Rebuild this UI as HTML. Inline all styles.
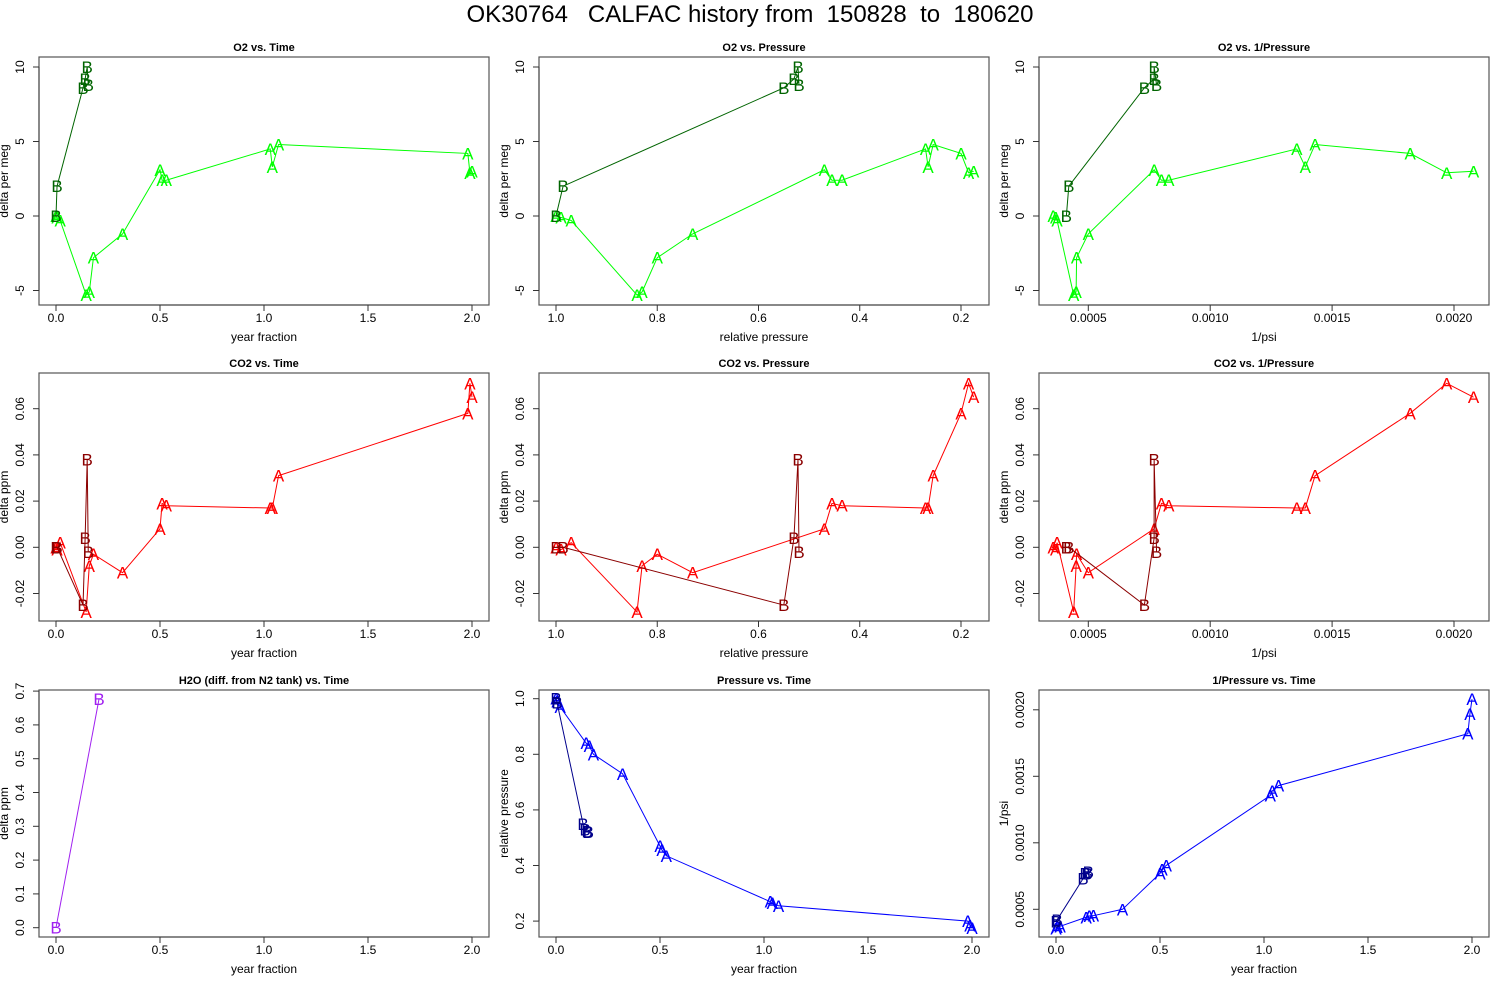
<!DOCTYPE html>
<html><head><meta charset="utf-8"><style>
html,body{margin:0;padding:0;background:#fff;}
svg{display:block;font-family:"Liberation Sans",sans-serif;}
</style></head><body>
<svg id="c" width="1500" height="1000" xmlns="http://www.w3.org/2000/svg">
<rect width="1500" height="1000" fill="#fff"/>
<text x="750" y="22" text-anchor="middle" font-size="24" xml:space="preserve" style="white-space:pre">OK30764   CALFAC history from  150828  to  180620</text>
</svg>
<script>
// Series A data
const aTime = [0.00,0.005,0.02,0.145,0.16,0.18,0.32,0.50,0.51,0.53,1.03,1.04,1.07,1.98,1.99,2.00];
const aPres = [1.00,0.99,0.97,0.84,0.83,0.80,0.73,0.47,0.455,0.435,0.27,0.265,0.255,0.20,0.185,0.175];
const aInvP = [0.000356,0.000366,0.000372,0.00044,0.00045,0.000452,0.0005,0.00077,0.0008,0.00083,0.001355,0.00139,0.00143,0.00182,0.00197,0.00208];
const aO2 = [0.0,-0.1,-0.3,-5.3,-5.1,-2.8,-1.2,3.1,2.4,2.4,4.5,3.3,4.8,4.2,2.9,3.0];
const aCO2 = [0.000,-0.001,0.002,-0.028,-0.008,-0.003,-0.011,0.008,0.019,0.018,0.017,0.017,0.031,0.058,0.071,0.065];
// Series B data
const bTime = [0.00,0.005,0.13,0.14,0.15,0.155];
const bPres = [1.00,0.986,0.55,0.53,0.522,0.52];
const bInvP = [0.00041,0.00042,0.00073,0.00077,0.00077,0.00078];
const bO2 = [0.0,2.0,8.6,9.2,10.0,8.8];
const bCO2 = [0.000,0.000,-0.025,0.004,0.038,-0.002];
const h2oTime = [0.00,0.207];
const h2oVal = [0.00,0.677];
// tick labels
const timeTicks = [0,0.5,1,1.5,2];
const timeLabels = ["0.0","0.5","1.0","1.5","2.0"];
const presTicks = [1.0,0.8,0.6,0.4,0.2];
const presLabels = ["1.0","0.8","0.6","0.4","0.2"];
const invTicks = [0.0005,0.0010,0.0015,0.0020];
const invLabels = ["0.0005","0.0010","0.0015","0.0020"];
const o2Ticks = [-5,0,5,10];
const o2Labels = ["-5","0","5","10"];
const co2Ticks = [-0.02,0,0.02,0.04,0.06];
const co2Labels = ["-0.02","0.00","0.02","0.04","0.06"];
const h2oTicks = [0,0.1,0.2,0.3,0.4,0.5,0.6,0.7];
const h2oLabels = ["0.0","0.1","0.2","0.3","0.4","0.5","0.6","0.7"];

const NS="http://www.w3.org/2000/svg";
const svg=document.getElementById('c');
const colL=[39,539,1039], rowT=[57,373,690], rowB=[305,621,937];
const sx={
 time:v=>17+v*208,
 pres:v=>17+(1-v)*506.25,
 inv:v=>49.3+(v-0.0005)*243800
};
const sy={
 o2:v=>159-v*14.9,
 co2:v=>174.3-v*2310,
 h2o:v=>237.7-v*338,
 pres:v=>8.7+(1-v)*278,
 inv:v=>219.3-(v-0.0005)*133000
};
function el(tag,attrs,parent){const e=document.createElementNS(NS,tag);for(const k in attrs)e.setAttribute(k,attrs[k]);(parent||svg).appendChild(e);return e;}

function panel(o){
 const L=colL[o.col],T=rowT[o.row],B=rowB[o.row];
 const g=el('g',{});
 
 
 const fr=el('rect',{x:L,y:T,width:450,height:B-T,fill:'none',stroke:'#555','stroke-width':1.2},g);
 
 
 const t=el('text',{x:L+225,y:T-6,'text-anchor':'middle','font-size':11,'font-weight':'bold'},g);
 t.textContent=o.title;
 
 
 const xa=el('g',{},g);
 
 
 const xp=o.xt.map(v=>L+sx[o.xs](v));
 el('line',{x1:xp[0],x2:xp[xp.length-1],y1:B,y2:B,stroke:'#333'},xa);
 o.xt.forEach((v,i)=>{
  el('line',{x1:xp[i],x2:xp[i],y1:B,y2:B+6,stroke:'#333'},xa);
  const lt=el('text',{x:xp[i],y:B+17,'text-anchor':'middle','font-size':12},xa);
  lt.textContent=o.xl[i];
  
  
 });
 const xt=el('text',{x:L+225,y:B+36,'text-anchor':'middle','font-size':12},g);
 xt.textContent=o.xtitle;
 
 
 const ya=el('g',{},g);
 
 
 const yp=o.yt.map(v=>T+sy[o.ys](v));
 el('line',{x1:L,x2:L,y1:yp[0],y2:yp[yp.length-1],stroke:'#333'},ya);
 o.yt.forEach((v,i)=>{
  el('line',{x1:L,x2:L-6,y1:yp[i],y2:yp[i],stroke:'#333'},ya);
  const lt=el('text',{x:L-15,y:yp[i],'text-anchor':'middle','font-size':12,transform:`rotate(-90 ${L-15} ${yp[i]})`},ya);
  lt.textContent=o.yl[i];
  
  
 });
 const ytx=L-31, yty=(T+B)/2;
 const yt=el('text',{x:ytx,y:yty,'text-anchor':'middle','font-size':12,transform:`rotate(-90 ${ytx} ${yty})`},g);
 yt.textContent=o.ytitle;
 
 
 o.series.forEach(s=>{
  const sg=el('g',{},g);
  
  
  const pts=s.x.map((v,i)=>[L+sx[o.xs](v),T+sy[o.ys](s.y[i])]);
  const pl=el('polyline',{points:pts.map(p=>p.join(',')).join(' '),fill:'none',stroke:s.color,'stroke-width':1},sg);
  
  
  pts.forEach(p=>{
   const m=el('text',{x:p[0],y:p[1]+6,'text-anchor':'middle','font-size':17,fill:s.color},sg);
   m.textContent=s.letter;
   
   
  });
 });
}
const LG='#00ff00',DG='#006400',RD='#ff0000',DR='#8b0000',BL='#0000ff',DB='#00008b',PU='#a020f0';
panel({name:'o2-vs-time-panel',col:0,row:0,title:'O2 vs. Time',xs:'time',ys:'o2',xt:timeTicks,xl:timeLabels,yt:o2Ticks,yl:o2Labels,xtitle:'year fraction',ytitle:'delta per meg',
 series:[{letter:'A',color:LG,x:aTime,y:aO2},{letter:'B',color:DG,x:bTime,y:bO2}]});
panel({name:'o2-vs-pressure-panel',col:1,row:0,title:'O2 vs. Pressure',xs:'pres',ys:'o2',xt:presTicks,xl:presLabels,yt:o2Ticks,yl:o2Labels,xtitle:'relative pressure',ytitle:'delta per meg',
 series:[{letter:'A',color:LG,x:aPres,y:aO2},{letter:'B',color:DG,x:bPres,y:bO2}]});
panel({name:'o2-vs-invpressure-panel',col:2,row:0,title:'O2 vs. 1/Pressure',xs:'inv',ys:'o2',xt:invTicks,xl:invLabels,yt:o2Ticks,yl:o2Labels,xtitle:'1/psi',ytitle:'delta per meg',
 series:[{letter:'A',color:LG,x:aInvP,y:aO2},{letter:'B',color:DG,x:bInvP,y:bO2}]});
panel({name:'co2-vs-time-panel',col:0,row:1,title:'CO2 vs. Time',xs:'time',ys:'co2',xt:timeTicks,xl:timeLabels,yt:co2Ticks,yl:co2Labels,xtitle:'year fraction',ytitle:'delta ppm',
 series:[{letter:'A',color:RD,x:aTime,y:aCO2},{letter:'B',color:DR,x:bTime,y:bCO2}]});
panel({name:'co2-vs-pressure-panel',col:1,row:1,title:'CO2 vs. Pressure',xs:'pres',ys:'co2',xt:presTicks,xl:presLabels,yt:co2Ticks,yl:co2Labels,xtitle:'relative pressure',ytitle:'delta ppm',
 series:[{letter:'A',color:RD,x:aPres,y:aCO2},{letter:'B',color:DR,x:bPres,y:bCO2}]});
panel({name:'co2-vs-invpressure-panel',col:2,row:1,title:'CO2 vs. 1/Pressure',xs:'inv',ys:'co2',xt:invTicks,xl:invLabels,yt:co2Ticks,yl:co2Labels,xtitle:'1/psi',ytitle:'delta ppm',
 series:[{letter:'A',color:RD,x:aInvP,y:aCO2},{letter:'B',color:DR,x:bInvP,y:bCO2}]});
panel({name:'h2o-vs-time-panel',col:0,row:2,title:'H2O (diff. from N2 tank) vs. Time',xs:'time',ys:'h2o',xt:timeTicks,xl:timeLabels,yt:h2oTicks,yl:h2oLabels,xtitle:'year fraction',ytitle:'delta ppm',
 series:[{letter:'B',color:PU,x:h2oTime,y:h2oVal}]});
panel({name:'pressure-vs-time-panel',col:1,row:2,title:'Pressure vs. Time',xs:'time',ys:'pres',xt:timeTicks,xl:timeLabels,yt:[0.2,0.4,0.6,0.8,1.0],yl:["0.2","0.4","0.6","0.8","1.0"],xtitle:'year fraction',ytitle:'relative pressure',
 series:[{letter:'A',color:BL,x:aTime,y:aPres},{letter:'B',color:DB,x:bTime,y:bPres}]});
panel({name:'invpressure-vs-time-panel',col:2,row:2,title:'1/Pressure vs. Time',xs:'time',ys:'inv',xt:timeTicks,xl:timeLabels,yt:invTicks,yl:invLabels,xtitle:'year fraction',ytitle:'1/psi',
 series:[{letter:'A',color:BL,x:aTime,y:aInvP},{letter:'B',color:DB,x:bTime,y:bInvP}]});
</script>
</body></html>
